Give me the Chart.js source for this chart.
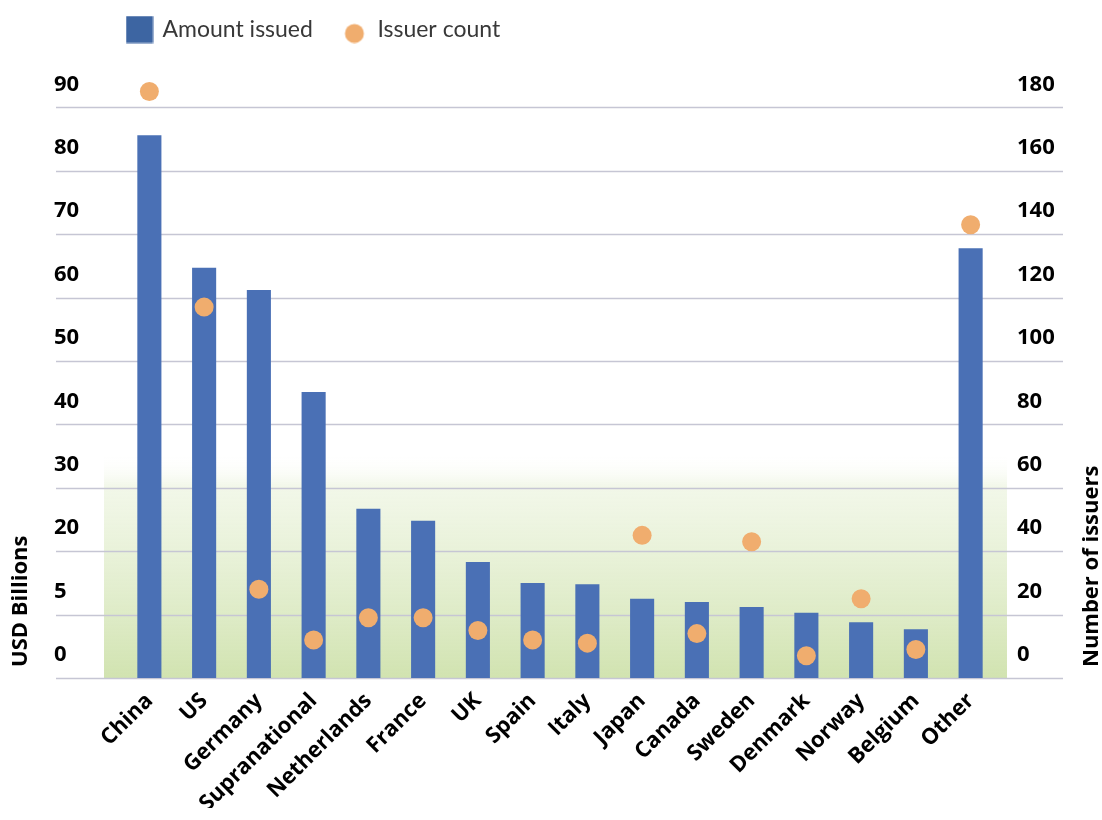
<!DOCTYPE html>
<html>
<head>
    <title>Amount issued and issuer count by country</title>
    <script src="https://cdn.jsdelivr.net/npm/chart.js"></script>
    <style>
        body {
            margin: 0;
            padding: 0;
            background-color: #ffffff;
        }

        .wrapper {
            position: relative;
            width: 1102px;
            height: 820px;
        }
    </style>
</head>
<body>
    <div class="wrapper">
        <canvas id="issuance-chart"></canvas>
    </div>

    <script>
        // data
        const countries = ['China', 'US', 'Germany', 'Supranational', 'Netherlands', 'France', 'UK', 'Spain',
            'Italy', 'Japan', 'Canada', 'Sweden', 'Denmark', 'Norway', 'Belgium', 'Other'];
        const amountIssued = [85.6, 64.7, 61.2, 45.1, 26.7, 24.8, 18.3, 15.0, 14.8, 12.5, 12.0, 11.2, 10.3, 8.8, 7.7, 67.8];
        const issuerCount = [185, 117, 28, 12, 19, 19, 15, 12, 11, 45, 14, 43, 7, 25, 9, 143];
        const leftTickLabels = ['0', '5', '20', '30', '40', '50', '60', '70', '80', '90'];
        const rightTickLabels = ['0', '20', '40', '60', '80', '100', '120', '140', '160', '180'];

        const BOLD_FONT = '"Open Sans", "DejaVu Sans", sans-serif';
        const LEGEND_FONT = 'Lato, "DejaVu Sans", sans-serif';
        const BAR_BLUE = '#4a70b5';
        const DOT_ORANGE = '#f0ad6e';
        const LEFT_MAX = 97;

        // little canvases for the legend markers (square and round dot)
        function makeMarker(kind) {
            const c = document.createElement('canvas');
            c.width = 28;
            c.height = 28;
            const g = c.getContext('2d');
            if (kind === 'square') {
                g.fillStyle = '#3d65a2';
                g.fillRect(0.5, 0.5, 27, 27);
            } else {
                g.fillStyle = DOT_ORANGE;
                g.beginPath();
                g.arc(14, 18, 9.5, 0, Math.PI * 2);
                g.fill();
            }
            return c;
        }
        const squareMarker = makeMarker('square');
        const dotMarker = makeMarker('dot');

        // green wash at the bottom and grid lines that run past the plot
        const backdropPlugin = {
            id: 'backdrop',
            beforeDatasetsDraw(chart) {
                const ctx = chart.ctx;
                const area = chart.chartArea;
                const yLeft = chart.scales.yLeft;
                const washTop = yLeft.getPixelForValue(35.5);
                ctx.save();
                const grad = ctx.createLinearGradient(0, washTop, 0, area.bottom);
                grad.addColorStop(0, 'rgba(255,255,255,0)');
                grad.addColorStop(0.15, 'rgba(226,238,206,0.45)');
                grad.addColorStop(1, '#d1e3b0');
                ctx.fillStyle = grad;
                ctx.fillRect(area.left - 18, washTop, area.right - area.left + 27, area.bottom - washTop);

                ctx.strokeStyle = '#c6c6d4';
                ctx.lineWidth = 1.5;
                yLeft.ticks.forEach(t => {
                    const y = Math.round(yLeft.getPixelForValue(t.value)) + 0.5;
                    ctx.beginPath();
                    ctx.moveTo(56, y);
                    ctx.lineTo(1063, y);
                    ctx.stroke();
                });
                ctx.restore();
            },
            afterLayout(chart) {
                // nudge the legend to where the reference has it
                chart.legend.left = 98;
                chart.legend.top = -12;
            },
            afterDraw(chart) {
                const ctx = chart.ctx;
                const bottom = chart.chartArea.bottom - 11;
                [['USD Billions', 21], ['Number of issuers', 1092]].forEach(([text, x]) => {
                    ctx.save();
                    ctx.fillStyle = '#000';
                    ctx.font = 'bold 22px ' + BOLD_FONT;
                    ctx.textBaseline = 'middle';
                    ctx.textAlign = 'left';
                    ctx.translate(x, bottom);
                    ctx.rotate(-Math.PI / 2);
                    ctx.fillText(text, 0, 0);
                    ctx.restore();
                });
            }
        };

        const tickFont = { family: BOLD_FONT, size: 22, weight: 'bold' };

        const ctx = document.getElementById('issuance-chart').getContext('2d');
        const chart = new Chart(ctx, {
            data: {
                labels: countries,
                datasets: [{
                    type: 'bar',
                    label: 'Amount issued',
                    data: amountIssued,
                    yAxisID: 'yLeft',
                    backgroundColor: BAR_BLUE,
                    barPercentage: 0.44,
                    categoryPercentage: 1,
                    order: 1
                }, {
                    type: 'line',
                    label: 'Issuer count',
                    data: issuerCount,
                    yAxisID: 'yRight',
                    showLine: false,
                    pointRadius: 9.5,
                    pointHoverRadius: 9.5,
                    pointBorderWidth: 0,
                    pointBackgroundColor: DOT_ORANGE,
                    borderColor: DOT_ORANGE,
                    order: 0
                }]
            },
            options: {
                responsive: true,
                maintainAspectRatio: false,
                animation: false,
                layout: {
                    padding: { left: 54, bottom: 12 }
                },
                plugins: {
                    tooltip: { enabled: false },
                    legend: {
                        position: 'top',
                        align: 'start',
                        labels: {
                            usePointStyle: true,
                            boxWidth: 24,
                            boxHeight: 24,
                            padding: 30,
                            color: '#383838',
                            font: { family: LEGEND_FONT, size: 23 },
                            generateLabels: () => [
                                { text: 'Amount issued', pointStyle: squareMarker, datasetIndex: 0, hidden: false, fontColor: '#383838', lineWidth: 0 },
                                { text: 'Issuer count', pointStyle: dotMarker, datasetIndex: 1, hidden: false, fontColor: '#383838', lineWidth: 0 }
                            ]
                        }
                    }
                },
                scales: {
                    x: {
                        offset: true,
                        grid: { display: false },
                        border: { display: false },
                        ticks: {
                            color: '#000',
                            font: { family: BOLD_FONT, size: 22, weight: 'bold' },
                            autoSkip: false,
                            maxRotation: 45,
                            minRotation: 45,
                            padding: 2
                        },
                        afterFit: s => { s.height = 130; }
                    },
                    yLeft: {
                        position: 'left',
                        min: 0,
                        max: LEFT_MAX,
                        grid: { display: false },
                        border: { display: false },
                        ticks: {
                            stepSize: 10,
                            includeBounds: false,
                            labelOffset: -23,
                            crossAlign: 'far',
                            color: '#000',
                            font: tickFont,
                            callback: (v, i) => leftTickLabels[i]
                        },
                        afterFit: s => { s.width = 68; }
                    },
                    yRight: {
                        position: 'right',
                        min: 0,
                        max: LEFT_MAX * 2,
                        grid: { display: false },
                        border: { display: false },
                        ticks: {
                            stepSize: 20,
                            includeBounds: false,
                            labelOffset: -23,
                            crossAlign: 'near',
                            padding: 11,
                            color: '#000',
                            font: tickFont,
                            callback: (v, i) => rightTickLabels[i]
                        },
                        afterFit: s => { s.width = 104; }
                    }
                }
            },
            plugins: [backdropPlugin]
        });
    </script>
</body>
</html>
